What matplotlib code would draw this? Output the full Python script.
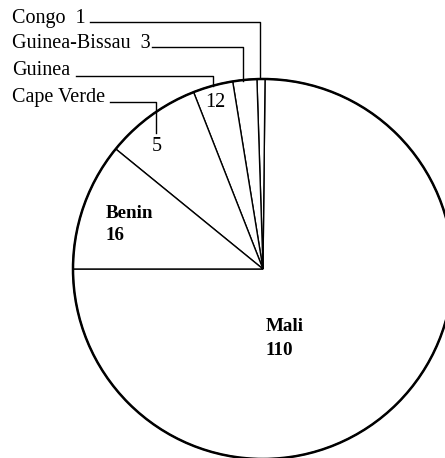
import matplotlib
matplotlib.use("Agg")
import matplotlib.pyplot as plt
from matplotlib.patches import Circle

# Data (counter-clockwise from the left horizontal, as drawn in the reference)
countries = ["Mali", "Congo", "Guinea-Bissau", "Cape Verde", "Guinea", "Benin"]
values = [110, 1, 3, 5, 12, 16]

W, H = 445, 458
fig = plt.figure(figsize=(W / 100, H / 100), dpi=100)
ax = fig.add_axes([0, 0, 1, 1])

def Y(y):
    return H - y

cx, cy, r = 263, Y(269), 190
ax.pie(values, startangle=180, counterclock=True, center=(cx, cy), radius=r,
       colors=["white"] * len(values),
       wedgeprops=dict(edgecolor="black", linewidth=1.0), frame=True)
ax.set_xlim(0, W)
ax.set_ylim(0, H)
ax.set_aspect("equal")
ax.axis("off")
ax.add_patch(Circle((cx, cy), r, fill=False, edgecolor="black", linewidth=1.8))

font = ["Liberation Serif", "DejaVu Serif"]
fs = 14.5
fsi = 13.7
val = dict(zip(countries, values))

# Outside labels with leader lines
ax.text(12, Y(23), f"Congo  {val['Congo']}", family=font, fontsize=fs, va="baseline")
ax.plot([90, 260, 260], [Y(22), Y(22), Y(78)], color="black", lw=1)

ax.text(12, Y(48), f"Guinea-Bissau  {val['Guinea-Bissau']}", family=font, fontsize=fs, va="baseline")
ax.plot([152, 243, 243], [Y(47), Y(47), Y(81)], color="black", lw=1)

ax.text(12, Y(75), "Guinea", family=font, fontsize=fs, va="baseline")
ax.plot([76, 213, 213], [Y(76), Y(76), Y(86)], color="black", lw=1)
ax.text(215, Y(107), f"{val['Guinea']}", family=font, fontsize=fs, va="baseline", ha="center")

ax.text(12, Y(102), "Cape Verde", family=font, fontsize=fs, va="baseline")
ax.plot([110, 156, 156], [Y(102), Y(102), Y(133)], color="black", lw=1)
ax.text(157, Y(151), f"{val['Cape Verde']}", family=font, fontsize=fs, va="baseline", ha="center")

# Inside labels
ax.text(106, Y(218), "Benin", family=font, fontsize=fsi, va="baseline", fontweight="bold")
ax.text(106, Y(240), f"{val['Benin']}", family=font, fontsize=fsi, va="baseline", fontweight="bold")
ax.text(266, Y(331), "Mali", family=font, fontsize=fsi, va="baseline", fontweight="bold")
ax.text(266, Y(355), f"{val['Mali']}", family=font, fontsize=fsi, va="baseline", fontweight="bold")

fig.savefig("out.png", dpi=100, facecolor="white")
